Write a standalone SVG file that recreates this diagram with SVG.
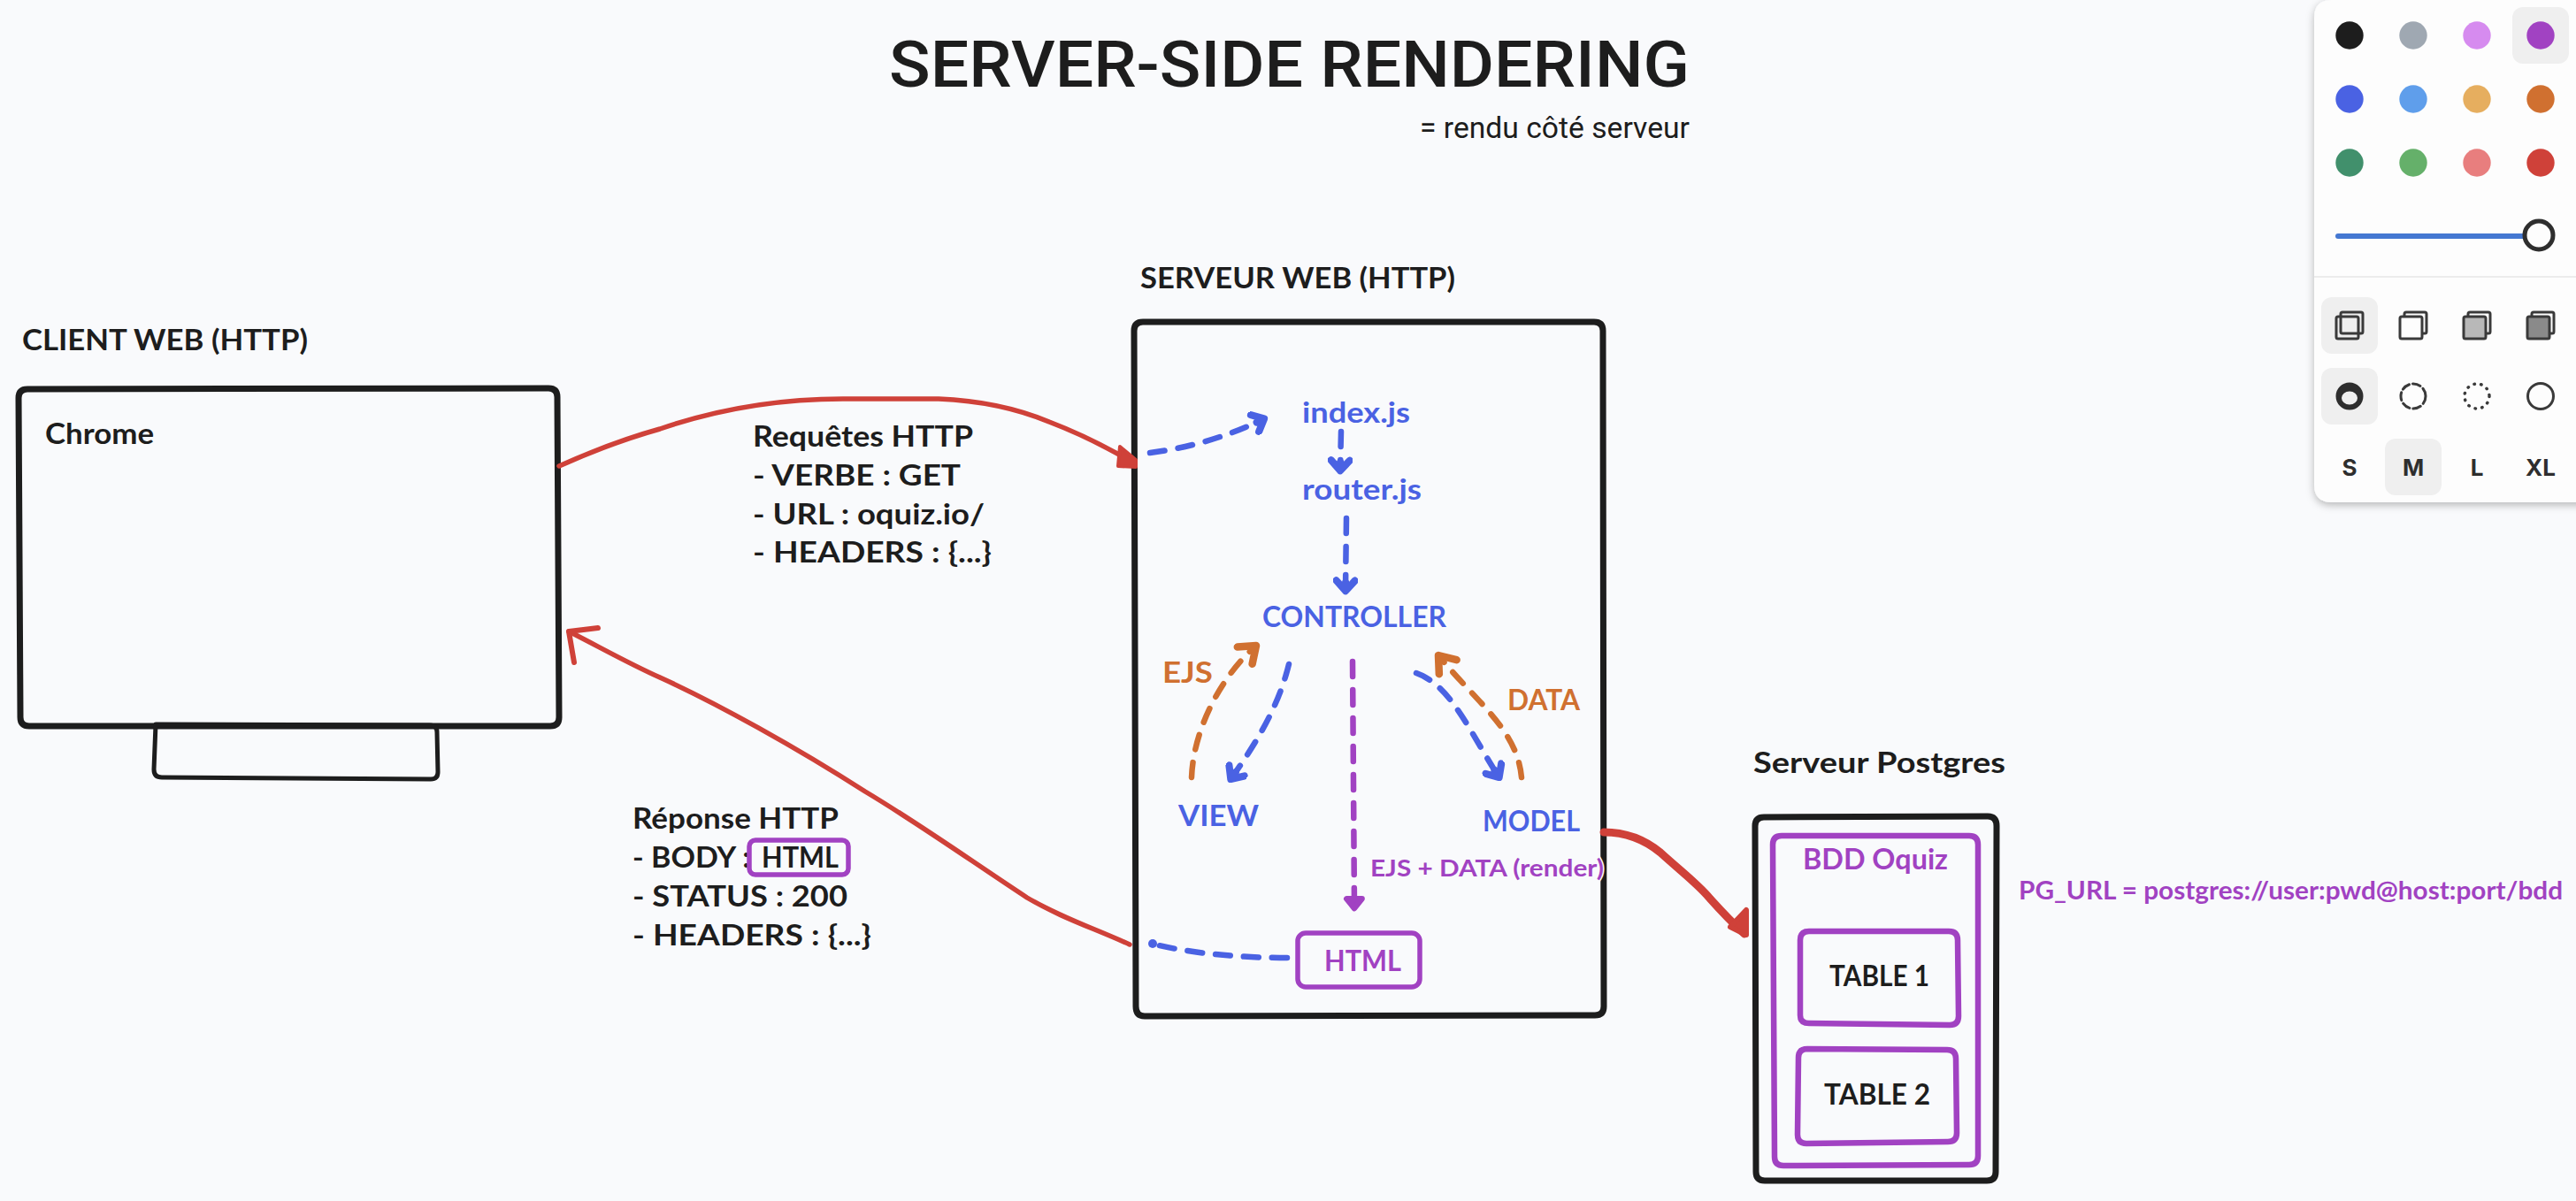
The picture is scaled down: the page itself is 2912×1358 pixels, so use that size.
<svg xmlns="http://www.w3.org/2000/svg" width="2912" height="1358" viewBox="0 0 2912 1358">
<style>
text{font-family:"Lato","Noto Sans","Liberation Sans",sans-serif;font-weight:700;font-size:32px;fill:#1d1d1d}
.title{font-family:"Roboto","Liberation Sans",sans-serif;font-weight:500;font-size:73px}
.sub{font-family:"Roboto","Liberation Sans",sans-serif;font-weight:400;font-size:33px}
.blue{fill:#4a62e3}.org{fill:#d07030}.vio{fill:#a142c2}
.halo{paint-order:stroke;stroke:#f9fafc;stroke-width:3px}
.box{fill:none;stroke:#1d1d1d;stroke-width:7;stroke-linejoin:round}
.vbox{fill:none;stroke:#a142c2;stroke-width:6.5;stroke-linejoin:round}
.dash{fill:none;stroke-width:6.5;stroke-linecap:round;stroke-dasharray:17 15}
.red{fill:none;stroke:#cf4139;stroke-width:5.5;stroke-linecap:round;stroke-linejoin:round}
.ui{font-family:"Inter","Liberation Sans",sans-serif;font-weight:700;font-size:26px;fill:#2e2e2e;text-anchor:middle}
.ic{fill:none;stroke:#3a3a3a;stroke-width:3;stroke-linejoin:round}
.pick{fill:#efefef}
</style>
<defs>
<marker id="hb" markerUnits="userSpaceOnUse" markerWidth="28" markerHeight="28" refX="16" refY="12" orient="auto" viewBox="0 0 24 24"><path d="M7 3 L17 12 L7 21 M9 12 L16 12" fill="none" stroke="#4a62e3" stroke-width="7" stroke-linecap="round" stroke-linejoin="round"/></marker>
<marker id="ho" markerUnits="userSpaceOnUse" markerWidth="34" markerHeight="34" refX="18" refY="12" orient="auto" viewBox="0 0 24 24"><path d="M6 3 L18 12 L6 21" fill="none" stroke="#d07030" stroke-width="6" stroke-linecap="round" stroke-linejoin="round"/></marker>
<marker id="hv" markerUnits="userSpaceOnUse" markerWidth="26" markerHeight="26" refX="16" refY="12" orient="auto" viewBox="0 0 24 24"><path d="M7 4 L17 12 L7 20 Z" fill="#a142c2" stroke="#a142c2" stroke-width="6" stroke-linejoin="round"/></marker>
<filter id="sh" x="-15%" y="-10%" width="130%" height="120%"><feDropShadow dx="0" dy="3" stdDeviation="5" flood-color="#000" flood-opacity="0.28"/></filter>
</defs>
<rect width="2912" height="1358" fill="#f9fafc"/>

<g id="title">
<text class="title" x="1005" y="98" textLength="905" lengthAdjust="spacingAndGlyphs">SERVER-SIDE RENDERING</text>
<text class="sub" x="1605" y="156" textLength="305" lengthAdjust="spacingAndGlyphs">= rendu côté serveur</text>
</g>

<g id="client">
<text x="25" y="396" textLength="323" lengthAdjust="spacingAndGlyphs">CLIENT WEB (HTTP)</text>
<path class="box" d="M31 440 Q21 440 21 450 L23 811 Q23 821 33 821 L622 821 Q632 821 632 811 L630 449 Q630 439 620 439 Z"/>
<path class="box" style="stroke-width:5" d="M176 819 L174 870 Q174 879 183 879 L487 881 Q495 881 495 873 L494 828 Q494 820 486 820 Z"/>
<text x="51" y="502" textLength="123" lengthAdjust="spacingAndGlyphs">Chrome</text>
</g>

<g id="server">
<text x="1289" y="326" textLength="356" lengthAdjust="spacingAndGlyphs">SERVEUR WEB (HTTP)</text>
<path class="box" d="M1292 364 Q1282 364 1282 374 L1284 1138 Q1284 1149 1294 1149 L1803 1148 Q1813 1148 1813 1138 L1812 374 Q1812 364 1802 364 Z"/>
</g>

<g id="index"><text class="blue" x="1472" y="478" textLength="122" lengthAdjust="spacingAndGlyphs">index.js</text></g>
<g id="router"><text class="blue" x="1472" y="565" textLength="135" lengthAdjust="spacingAndGlyphs">router.js</text></g>
<g id="controller"><text class="blue" x="1427" y="709" textLength="208" lengthAdjust="spacingAndGlyphs">CONTROLLER</text></g>
<g id="view"><text class="blue" x="1332" y="934" textLength="91" lengthAdjust="spacingAndGlyphs">VIEW</text></g>
<g id="model"><text class="blue" x="1676" y="940" textLength="110" lengthAdjust="spacingAndGlyphs">MODEL</text></g>
<g id="html-node">
<rect class="vbox" style="stroke-width:5.5" x="1467" y="1055" width="138" height="61" rx="9"/>
<text class="vio" x="1497" y="1098" textLength="87" lengthAdjust="spacingAndGlyphs">HTML</text>
</g>

<g id="postgres">
<text x="1982" y="874" textLength="285" lengthAdjust="spacingAndGlyphs">Serveur Postgres</text>
<path class="box" d="M1994 924 Q1984 924 1984 934 L1985 1325 Q1985 1335 1995 1335 L2246 1335 Q2256 1335 2256 1325 L2257 934 Q2257 923 2247 923 Z"/>
</g>
<g id="bdd">
<path class="vbox" d="M2014 945 Q2004 945 2004 955 L2006 1308 Q2006 1318 2016 1318 L2226 1317 Q2236 1317 2236 1307 L2236 955 Q2236 945 2226 945 Z"/>
<text class="vio" x="2038" y="983" textLength="164" lengthAdjust="spacingAndGlyphs">BDD Oquiz</text>
</g>
<g id="table1">
<path class="vbox" d="M2045 1053 Q2035 1053 2035 1063 L2035 1148 Q2035 1157 2045 1157 L2204 1159 Q2214 1159 2214 1149 L2213 1063 Q2213 1053 2203 1053 Z"/>
<text x="2068" y="1115" textLength="113" lengthAdjust="spacingAndGlyphs">TABLE 1</text>
</g>
<g id="table2">
<path class="vbox" d="M2043 1186 Q2033 1186 2033 1196 L2032 1283 Q2032 1293 2042 1293 L2202 1291 Q2212 1291 2212 1281 L2211 1197 Q2211 1187 2201 1187 Z"/>
<text x="2062" y="1249" textLength="120" lengthAdjust="spacingAndGlyphs">TABLE 2</text>
</g>
<g id="pg-url"><text class="vio" style="font-size:28px" x="2282" y="1017" textLength="615" lengthAdjust="spacingAndGlyphs">PG_URL = postgres://user:pwd@host:port/bdd</text></g>

<g id="request-label">
<text x="851" y="505" textLength="249" lengthAdjust="spacingAndGlyphs">Requêtes HTTP</text>
<text x="851" y="549" textLength="235" lengthAdjust="spacingAndGlyphs">- VERBE : GET</text>
<text x="851" y="593" textLength="262" lengthAdjust="spacingAndGlyphs">- URL : oquiz.io/</text>
<text x="851" y="636" textLength="270" lengthAdjust="spacingAndGlyphs">- HEADERS : {...}</text>
</g>
<g id="response-label">
<text x="715" y="937" textLength="233" lengthAdjust="spacingAndGlyphs">Réponse HTTP</text>
<text x="715" y="981" textLength="133" lengthAdjust="spacingAndGlyphs">- BODY :</text>
<rect class="vbox" style="stroke-width:5.5" x="847" y="950" width="112" height="39" rx="7"/>
<text x="861" y="981" textLength="87" lengthAdjust="spacingAndGlyphs">HTML</text>
<text x="715" y="1025" textLength="243" lengthAdjust="spacingAndGlyphs">- STATUS : 200</text>
<text x="715" y="1069" textLength="270" lengthAdjust="spacingAndGlyphs">- HEADERS : {...}</text>
</g>
<g id="edge-labels">
<text class="org" x="1314" y="772" textLength="57" lengthAdjust="spacingAndGlyphs">EJS</text>
<text class="org" x="1704" y="803" textLength="82" lengthAdjust="spacingAndGlyphs">DATA</text>
</g>

<g id="connectors">
<path class="dash" stroke="#4a62e3" d="M1300 512 C1340 507 1385 495 1428 474" marker-end="url(#hb)"/>
<path class="dash" stroke="#4a62e3" d="M1516 488 L1515 531" marker-end="url(#hb)"/>
<path class="dash" stroke="#4a62e3" d="M1522 586 L1521 667" marker-end="url(#hb)"/>
<path class="dash" stroke="#d07030" d="M1347 879 C1349 825 1380 765 1420 730" marker-end="url(#ho)"/>
<path class="dash" stroke="#4a62e3" d="M1457 751 C1445 800 1420 840 1392 880" marker-end="url(#hb)"/>
<path class="dash" stroke="#a142c2" d="M1529 748 L1531 1026" marker-end="url(#hv)"/>
<path class="dash" stroke="#4a62e3" d="M1601 761 C1640 775 1660 825 1694 878" marker-end="url(#hb)"/>
<path class="dash" stroke="#d07030" d="M1720 879 C1715 825 1670 795 1626 741" marker-end="url(#ho)"/>
<path class="dash" stroke="#4a62e3" d="M1455 1083 C1400 1083 1350 1078 1310 1069"/>
<circle cx="1303" cy="1067" r="5" fill="#4a62e3"/>
<path class="red" d="M632 527 C670 510 710 495 746 485 C810 463 880 451 953 451 L1061 451 C1110 453 1150 462 1186 477 C1220 490 1250 505 1279 522"/>
<path d="M1266 505 L1284 520 L1284 528 L1264 527 Z" fill="#cf4139" stroke="#cf4139" stroke-width="4" stroke-linejoin="round"/>
<path class="red" d="M1277 1068 C1238 1050 1200 1038 1161 1015 C1100 975 1040 932 978 895 C900 845 810 795 746 766 C710 750 675 730 643 714"/>
<path class="red" style="stroke-width:6" d="M676 710 L643 714 L649 749"/>
<path class="red" style="stroke-width:9" d="M1813 941 C1840 941 1860 950 1877 964 C1900 985 1920 1000 1933 1016 C1950 1035 1960 1045 1972 1056"/>
<path d="M1974 1029 L1974 1057 L1956 1048 Z" fill="#cf4139" stroke="#cf4139" stroke-width="6" stroke-linejoin="round"/>
</g>
<g id="render-label"><text class="vio halo" style="font-size:27px" x="1549" y="991" textLength="264" lengthAdjust="spacingAndGlyphs">EJS + DATA (render)</text></g>

<g id="toolbar">
<path d="M2936 0 L2636 0 Q2616 0 2616 20 L2616 548 Q2616 568 2636 568 L2936 568 Z" fill="#fdfdfd" filter="url(#sh)"/>
<rect class="pick" x="2840" y="8" width="64" height="64" rx="12"/>
<circle cx="2656" cy="40" r="15.7" fill="#1d1d1d"/><circle cx="2728" cy="40" r="15.7" fill="#9fa8b2"/><circle cx="2800" cy="40" r="15.7" fill="#d68bef"/><circle cx="2872" cy="40" r="15.7" fill="#a142c2"/>
<circle cx="2656" cy="112" r="15.7" fill="#4a62e3"/><circle cx="2728" cy="112" r="15.7" fill="#5f9eeb"/><circle cx="2800" cy="112" r="15.7" fill="#e6ae5f"/><circle cx="2872" cy="112" r="15.7" fill="#d07030"/>
<circle cx="2656" cy="184" r="15.7" fill="#41906c"/><circle cx="2728" cy="184" r="15.7" fill="#65b06a"/><circle cx="2800" cy="184" r="15.7" fill="#e87e7e"/><circle cx="2872" cy="184" r="15.7" fill="#cf4139"/>
<line x1="2643" y1="267" x2="2856" y2="267" stroke="#4478d2" stroke-width="6" stroke-linecap="round"/>
<circle cx="2870" cy="266" r="16" fill="#fdfdfd" stroke="#2e2e2e" stroke-width="5"/>
<line x1="2616" x2="2912" y1="313" y2="313" stroke="#ececec" stroke-width="2"/>
<rect class="pick" x="2624" y="336" width="64" height="64" rx="12"/>
<rect class="pick" x="2624" y="416" width="64" height="64" rx="12"/>
<rect class="pick" x="2696" y="496" width="64" height="64" rx="12"/>
<rect class="ic" x="2646" y="353" width="25" height="24" rx="2"/><rect class="ic" x="2641" y="358" width="25" height="25" rx="2"/>
<rect class="ic" x="2718" y="353" width="25" height="24" rx="2"/><rect class="ic" x="2713" y="358" width="25" height="25" rx="2" style="fill:#fdfdfd"/>
<rect class="ic" x="2790" y="353" width="25" height="24" rx="2"/><rect class="ic" x="2785" y="358" width="25" height="25" rx="2" style="fill:#b8b8b8"/>
<rect class="ic" x="2862" y="353" width="25" height="24" rx="2"/><rect class="ic" x="2857" y="358" width="25" height="25" rx="2" style="fill:#8a8a8a"/>
<path fill-rule="evenodd" fill="#2e2e2e" d="M2640.500 448a15.500 15.500 0 1 0 31 0a15.500 15.500 0 1 0 -31 0Z M2647 450a9 7.500 0 1 0 18 0a9 7.500 0 1 0 -18 0Z"/>
<circle cx="2728" cy="448" r="14" fill="none" stroke="#3a3a3a" stroke-width="3" stroke-dasharray="9 4" stroke-linecap="round"/>
<circle cx="2800" cy="448" r="14" fill="none" stroke="#3a3a3a" stroke-width="3.5" stroke-dasharray="0.5 7.3" stroke-linecap="round"/>
<circle cx="2872" cy="448" r="14.500" fill="none" stroke="#3a3a3a" stroke-width="3"/>
<text class="ui" x="2656" y="538">S</text><text class="ui" x="2728" y="538">M</text><text class="ui" x="2800" y="538">L</text><text class="ui" x="2872" y="538">XL</text>
</g>
</svg>
